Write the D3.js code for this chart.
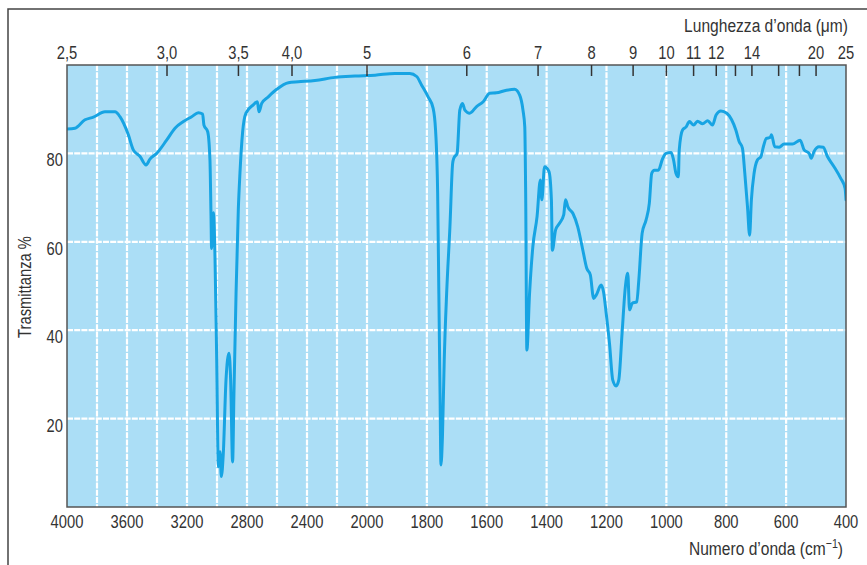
<!DOCTYPE html>
<html>
<head>
<meta charset="UTF-8" />
<title>Spettro IR</title>
<script src="https://d3js.org/d3.v7.min.js"></script>
<style>
  body { margin: 0; background: #fff; }
  svg { display: block; }
  text { font-family: "Liberation Sans", Arial, sans-serif; fill: #333; }
</style>
</head>
<body>
<svg id="chart"></svg>
<script>
  // spectrum: wavenumber (cm-1) and transmittance (%)
  const wavenumbers = [4000, 3947, 3880, 3824, 3747, 3680, 3647, 3591, 3558, 3513, 3473, 3447, 3402, 3336, 3280, 3224, 3169, 3124, 3096, 3087, 3062, 3047, 3040, 3036, 3024, 3013, 3002, 2991, 2980, 2971, 2958, 2940, 2920, 2909, 2896, 2887, 2873, 2858, 2847, 2829, 2807, 2758, 2731, 2720, 2702, 2658, 2602, 2524, 2458, 2347, 2213, 2080, 1973, 1907, 1857, 1834, 1818, 1796, 1779, 1771, 1764, 1760, 1756, 1753, 1748, 1742, 1734, 1723, 1714, 1710, 1699, 1690, 1681, 1673, 1657, 1634, 1612, 1590, 1568, 1534, 1507, 1490, 1479, 1473, 1470, 1466, 1457, 1446, 1432, 1421, 1416, 1407, 1392, 1384, 1381, 1370, 1357, 1343, 1337, 1329, 1312, 1296, 1279, 1266, 1254, 1243, 1234, 1218, 1210, 1201, 1190, 1179, 1168, 1159, 1148, 1137, 1129, 1123, 1114, 1099, 1092, 1081, 1068, 1057, 1049, 1040, 1027, 1012, 1001, 984, 976, 968, 960, 957, 946, 934, 923, 909, 896, 879, 862, 846, 834, 818, 798, 782, 768, 757, 746, 738, 729, 722, 716, 707, 696, 684, 676, 666, 653, 649, 638, 623, 607, 579, 553, 540, 523, 516, 507, 490, 476, 462, 440, 418, 403, 400];
  const transmittance = [85.5, 85.7, 87.6, 88.2, 89.4, 89.4, 88.3, 84.2, 80.8, 79.3, 77.4, 78.7, 80.0, 83.0, 85.7, 87.2, 88.3, 89.2, 88.9, 86.4, 84.9, 78.5, 66.0, 58.5, 66.6, 55.9, 33.3, 9.1, 12.5, 6.9, 12.1, 28.7, 34.8, 28.7, 10.2, 25.7, 48.3, 67.2, 75.5, 84.9, 89.1, 91.0, 91.7, 89.4, 91.3, 92.8, 94.5, 96.0, 96.2, 96.5, 97.2, 97.5, 97.7, 98.1, 98.1, 97.4, 95.5, 92.8, 90.2, 85.3, 71.0, 48.3, 25.7, 9.5, 15.9, 33.3, 48.3, 63.4, 77.7, 78.9, 80.0, 89.8, 91.3, 89.8, 89.1, 90.6, 91.7, 93.6, 93.7, 94.3, 94.5, 93.2, 89.8, 86.0, 71.0, 35.5, 48.3, 58.9, 65.7, 74.0, 69.5, 77.0, 75.9, 69.5, 58.1, 62.7, 64.2, 66.1, 69.5, 67.9, 66.4, 63.4, 58.1, 54.0, 52.5, 47.2, 48.0, 50.2, 48.7, 43.8, 37.0, 28.7, 27.4, 28.7, 39.3, 49.8, 52.9, 44.6, 46.1, 46.4, 51.4, 61.9, 64.9, 68.7, 75.5, 76.2, 76.2, 78.9, 80.0, 80.2, 78.5, 75.5, 74.7, 80.8, 85.3, 86.0, 87.2, 86.4, 87.3, 86.7, 87.4, 86.4, 88.7, 89.6, 89.1, 87.6, 85.3, 82.7, 81.2, 75.5, 67.9, 61.5, 69.5, 75.5, 78.5, 79.3, 81.5, 83.4, 83.6, 84.2, 81.5, 81.4, 82.1, 82.1, 83.0, 80.8, 80.0, 78.9, 80.4, 81.5, 81.4, 79.3, 77.0, 74.4, 72.1, 69.5];

  const bottomLabels = [4000, 3600, 3200, 2800, 2400, 2000, 1800, 1600, 1400, 1200, 1000, 800, 600, 400];
  const gridWavenumbers = [3800, 3600, 3400, 3200, 3000, 2800, 2600, 2400, 2200, 2000, 1800, 1600, 1400, 1200, 1000, 800, 600];
  const yTicks = [20, 40, 60, 80];
  const micronLabels = [2.5, 3, 3.5, 4, 5, 6, 7, 8, 9, 10, 11, 12, 14, 20, 25];
  const micronTicks = [3, 3.5, 4, 5, 6, 7, 8, 9, 10, 11, 12, 13, 14, 16, 18, 20];

  const W = 867, H = 565;
  const pLeft = 67, pRight = 846, pTop = 65, pBottom = 507;
  const narrow = 0.82; // condensed look of the printed labels

  const svg = d3.select("#chart").attr("width", W).attr("height", H);

  // scale halves above 2000 cm-1
  const x = d3.scaleLinear().domain([4000, 2000, 400]).range([pLeft, 367, pRight]);
  const y = d3.scaleLinear().domain([0, 100]).range([pBottom, pTop]);
  const fmt = v => (v < 5 ? v.toFixed(1) : String(v)).replace(".", ",");
  const at = (px, py, rot) => `translate(${px},${py})${rot ? " rotate(" + rot + ")" : ""} scale(${narrow},1)`;

  // outer frame
  svg.append("path")
    .attr("d", `M8,${H} L8,9 L${W},9`)
    .attr("fill", "none").attr("stroke", "#444").attr("stroke-width", 1.5);

  svg.append("rect")
    .attr("x", pLeft).attr("y", pTop)
    .attr("width", pRight - pLeft).attr("height", pBottom - pTop)
    .attr("fill", "#abdef6");

  svg.append("g").selectAll("line")
    .data(gridWavenumbers).join("line")
    .attr("x1", d => x(d)).attr("x2", d => x(d))
    .attr("y1", pTop).attr("y2", pBottom)
    .attr("stroke", "#fff").attr("stroke-width", 2.2).attr("stroke-dasharray", "6 1.2");

  svg.append("g").selectAll("line")
    .data(yTicks).join("line")
    .attr("x1", pLeft).attr("x2", pRight)
    .attr("y1", d => y(d)).attr("y2", d => y(d))
    .attr("stroke", "#fff").attr("stroke-width", 2.2).attr("stroke-dasharray", "6 1.2");

  svg.append("clipPath").attr("id", "clip")
    .append("rect").attr("x", pLeft).attr("y", pTop)
    .attr("width", pRight - pLeft).attr("height", pBottom - pTop);

  const pts = wavenumbers.map((w, i) => [w, transmittance[i]]);
  const line = d3.line()
    .x(d => x(d[0])).y(d => y(d[1]))
    .curve(d3.curveMonotoneX);

  svg.append("path")
    .datum(pts)
    .attr("clip-path", "url(#clip)")
    .attr("d", line)
    .attr("fill", "none")
    .attr("stroke", "#17a4e3")
    .attr("stroke-width", 3)
    .attr("stroke-linejoin", "round")
    .attr("stroke-linecap", "round");

  svg.append("rect")
    .attr("x", pLeft).attr("y", pTop)
    .attr("width", pRight - pLeft).attr("height", pBottom - pTop)
    .attr("fill", "none").attr("stroke", "#555").attr("stroke-width", 1.5);

  // top wavelength ticks
  svg.append("g").selectAll("line")
    .data(micronTicks).join("line")
    .attr("x1", d => x(10000 / d)).attr("x2", d => x(10000 / d))
    .attr("y1", pTop).attr("y2", pTop + 11)
    .attr("stroke", "#333").attr("stroke-width", 1.5);

  svg.append("g").selectAll("text")
    .data(micronLabels).join("text")
    .attr("transform", d => at(x(10000 / d), 59))
    .attr("text-anchor", "middle")
    .attr("font-size", 18)
    .text(fmt);

  svg.append("g").selectAll("text")
    .data(bottomLabels).join("text")
    .attr("transform", d => at(x(d), 528))
    .attr("text-anchor", "middle")
    .attr("font-size", 18)
    .text(d => d);

  svg.append("g").selectAll("text")
    .data(yTicks).join("text")
    .attr("transform", d => at(63, y(d) + 13))
    .attr("text-anchor", "end")
    .attr("font-size", 18)
    .text(d => d);

  svg.append("text")
    .attr("transform", at(31, 287, -90))
    .attr("text-anchor", "middle")
    .attr("font-size", 18)
    .text("Trasmittanza %");

  svg.append("text")
    .attr("transform", at(848, 32))
    .attr("text-anchor", "end")
    .attr("font-size", 19)
    .text("Lunghezza d’onda (μm)");

  const xt = svg.append("text")
    .attr("transform", at(843, 555))
    .attr("text-anchor", "end")
    .attr("font-size", 19);
  xt.append("tspan").text("Numero d’onda (cm");
  xt.append("tspan").attr("font-size", 13).attr("dy", -7).text("−1");
  xt.append("tspan").attr("dy", 7).text(")");
</script>
</body>
</html>
